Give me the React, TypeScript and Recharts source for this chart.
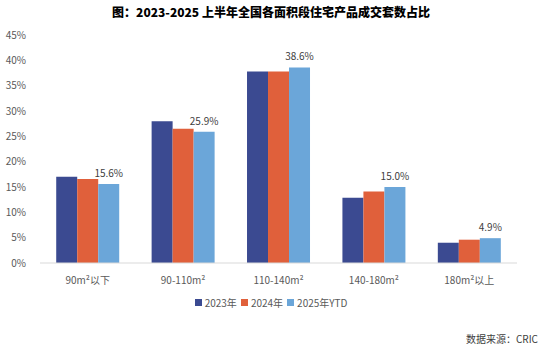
import React from "react";
import { BarChart, Bar, XAxis, YAxis, LabelList } from "recharts";

const categories = ["90m²以下", "90-110m²", "110-140m²", "140-180m²", "180m²以上"];
const series2023 = [17.0, 28.0, 37.8, 12.9, 4.0];
const series2024 = [16.6, 26.5, 37.8, 14.1, 4.6];
const series2025 = [15.6, 25.9, 38.6, 15.0, 4.9];
const yTicks = [0, 5, 10, 15, 20, 25, 30, 35, 40, 45];
const seriesNames = ["2023年", "2024年", "2025年YTD"];
const colors = ["#3B4A91", "#E0603B", "#6BA6D9"];

const data = categories.map((c, i) => ({
  name: c,
  y2023: series2023[i],
  y2024: series2024[i],
  y2025: series2025[i],
}));

const FONT = '"Noto Sans CJK SC", "Noto Sans", sans-serif';

const LegendContent = () => (
  <div style={{ display: "flex", justifyContent: "center", fontFamily: FONT, fontSize: 10, color: "#595959" }}>
    {seriesNames.map((n, i) => (
      <div key={n} style={{ display: "flex", alignItems: "center", marginRight: i < 2 ? 4 : 0 }}>
        <span style={{ width: 7, height: 7, background: colors[i], display: "inline-block", marginRight: 3 }} />
        <span>{n}</span>
      </div>
    ))}
  </div>
);

export default function App() {
  return (
    <div style={{ position: "fixed", left: 0, top: 0, width: 542, height: 351, background: "#fff", fontFamily: FONT }}>
      <div style={{ position: "absolute", top: 3, left: 0, width: 542, textAlign: "center", fontSize: 12, fontWeight: 900, color: "#000" }}>
        图：2023-2025 上半年全国各面积段住宅产品成交套数占比
      </div>
      <BarChart
        width={542}
        height={351}
        data={data}
        margin={{ top: 35, right: 25, left: 0, bottom: 58 }}
        barCategoryGap="17%"
        barGap={0}
      >
        <XAxis
          dataKey="name"
          axisLine={{ stroke: "#D9D9D9" }}
          tickLine={false}
          tick={{ fontSize: 10, fill: "#595959", fontFamily: FONT }}
          tickMargin={8}
        />
        <YAxis
          width={40}
          domain={[0, 45]}
          ticks={yTicks}
          axisLine={false}
          tickLine={false}
          tickFormatter={(v: number) => `${v}%`}
          tick={{ fontSize: 10, fill: "#595959", fontFamily: FONT }}
          tickMargin={8}
          interval={0}
        />
        <Bar dataKey="y2023" fill={colors[0]} isAnimationActive={false} />
        <Bar dataKey="y2024" fill={colors[1]} isAnimationActive={false} />
        <Bar dataKey="y2025" fill={colors[2]} isAnimationActive={false}>
          <LabelList
            dataKey="y2025"
            position="top"
            offset={7}
            formatter={(v: number) => `${v.toFixed(1)}%`}
            style={{ fontSize: 10, fill: "#404040", fontFamily: FONT }}
          />
        </Bar>
      </BarChart>
      <div style={{ position: "absolute", top: 295, left: 0, width: 542 }}>
        <LegendContent />
      </div>
      <div style={{ position: "absolute", top: 331, right: 4, fontSize: 10, color: "#404040" }}>
        数据来源：CRIC
      </div>
    </div>
  );
}
